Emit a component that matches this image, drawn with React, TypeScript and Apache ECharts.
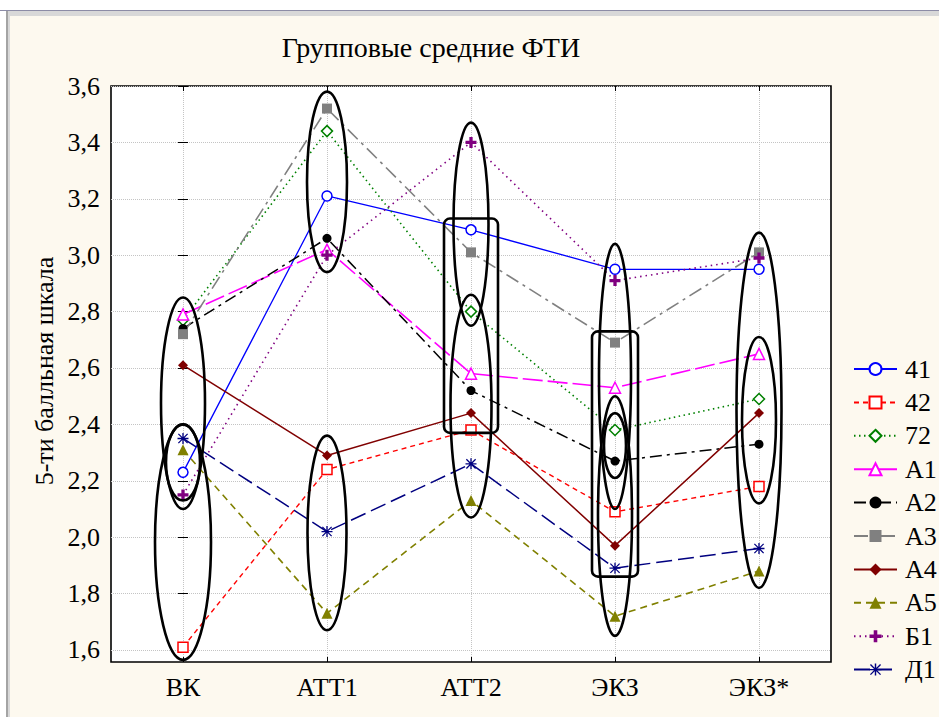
import React, { useEffect, useRef } from 'react';
import * as echarts from 'echarts';

const categories = ['ВК', 'АТТ1', 'АТТ2', 'ЭКЗ', 'ЭКЗ*'];
const yTicks = [1.6, 1.8, 2.0, 2.2, 2.4, 2.6, 2.8, 3.0, 3.2, 3.4, 3.6];

const s41 = [2.23, 3.21, 3.09, 2.95, 2.95];
const s42 = [1.61, 2.24, 2.38, 2.09, 2.18];
const s72 = [2.77, 3.44, 2.8, 2.38, 2.49];
const sA1 = [2.79, 3.02, 2.58, 2.53, 2.65];
const sA2 = [2.74, 3.06, 2.52, 2.27, 2.33];
const sA3 = [2.72, 3.52, 3.01, 2.69, 3.01];
const sA4 = [2.61, 2.29, 2.44, 1.97, 2.44];
const sA5 = [2.31, 1.73, 2.13, 1.72, 1.88];
const sB1 = [2.15, 3.0, 3.4, 2.91, 2.99];
const sD1 = [2.35, 2.02, 2.26, 1.89, 1.96];

// annotation outlines: category index, value range
const ellipses = [
  { x: 0, lo: 2.10, hi: 2.85, w: 44 },
  { x: 0, lo: 2.13, hi: 2.40, w: 34 },
  { x: 0, lo: 1.565, hi: 2.40, w: 56 },
  { x: 1, lo: 2.94, hi: 3.58, w: 40 },
  { x: 1, lo: 1.67, hi: 2.36, w: 39 },
  { x: 2, lo: 2.75, hi: 3.47, w: 35 },
  { x: 2, lo: 2.07, hi: 2.86, w: 41 },
  { x: 3, lo: 2.10, hi: 3.04, w: 32 },
  { x: 3, lo: 1.65, hi: 2.50, w: 34 },
  { x: 3, lo: 2.21, hi: 2.44, w: 22 },
  { x: 4, lo: 1.82, hi: 3.08, w: 45 },
  { x: 4, lo: 2.12, hi: 2.71, w: 34 },
];
const boxes = [
  { x: 2, lo: 2.37, hi: 3.13, w: 54 },
  { x: 3, lo: 1.86, hi: 2.73, w: 46 },
];

const FONT = 'serif';

const plusPath = 'path://M3.5,0H6.5V3.5H10V6.5H6.5V10H3.5V6.5H0V3.5H3.5Z';
const starPath =
  'path://M0,4.4H10V5.6H0Z M4.4,0H5.6V10H4.4Z M1.2,0.4L9.6,8.8L8.8,9.6L0.4,1.2Z M8.8,0.4L9.6,1.2L1.2,9.6L0.4,8.8Z';

type Def = {
  name: string;
  values: number[];
  color: string;
  dash: any;
  width: number;
  symbol: string;
  size: number;
  hollow: boolean;
};

const defs: Def[] = [
  { name: '41', values: s41, color: '#0000ff', dash: 'solid', width: 1.3, symbol: 'circle', size: 10, hollow: true },
  { name: '42', values: s42, color: '#ff0000', dash: [5, 4], width: 1.4, symbol: 'rect', size: 10, hollow: true },
  { name: '72', values: s72, color: '#008000', dash: [1.5, 3.5], width: 1.6, symbol: 'diamond', size: 11, hollow: true },
  { name: 'А1', values: sA1, color: '#ff00ff', dash: [20, 5], width: 1.6, symbol: 'triangle', size: 11, hollow: true },
  { name: 'А2', values: sA2, color: '#000000', dash: [12, 5, 3, 5], width: 1.5, symbol: 'circle', size: 9, hollow: false },
  { name: 'А3', values: sA3, color: '#808080', dash: [14, 5, 3, 5], width: 1.6, symbol: 'rect', size: 10, hollow: false },
  { name: 'А4', values: sA4, color: '#800000', dash: 'solid', width: 1.5, symbol: 'diamond', size: 10, hollow: false },
  { name: 'А5', values: sA5, color: '#808000', dash: [7, 5], width: 1.6, symbol: 'triangle', size: 11, hollow: false },
  { name: 'Б1', values: sB1, color: '#800080', dash: [1.5, 4], width: 1.6, symbol: plusPath, size: 11, hollow: false },
  { name: 'Д1', values: sD1, color: '#000080', dash: [16, 6], width: 1.5, symbol: starPath, size: 11, hollow: false },
];

export default function App() {
  const ref = useRef<HTMLDivElement>(null);
  useEffect(() => {
    const chart = echarts.init(ref.current!, null, { renderer: 'svg' });
    const lineSeries = defs.map((d) => ({
      type: 'line',
      name: d.name,
      data: d.values.map((v, i) => [i, v]),
      symbol: d.symbol,
      symbolSize: d.size,
      showAllSymbol: true,
      z: 3,
      lineStyle: { color: d.color, width: d.width, type: d.dash },
      itemStyle: d.hollow
        ? { color: '#ffffff', borderColor: d.color, borderWidth: 1.5 }
        : { color: d.color, borderColor: d.color, borderWidth: 0 },
      emphasis: { disabled: true },
    }));

    const ellipseSeries = {
      type: 'custom',
      name: 'ellipses',
      silent: true,
      clip: false,
      z: 10,
      data: ellipses.map((e) => [e.x, e.lo, e.hi]),
      encode: { x: 0, y: [1, 2] },
      renderItem: (params: any, api: any) => {
        const e = ellipses[params.dataIndex];
        const top = api.coord([e.x, e.hi]);
        const bot = api.coord([e.x, e.lo]);
        return {
          type: 'ellipse',
          shape: { cx: top[0], cy: (top[1] + bot[1]) / 2, rx: e.w / 2, ry: (bot[1] - top[1]) / 2 },
          style: { fill: 'none', stroke: '#000', lineWidth: 2.6 },
        };
      },
    };
    const boxSeries = {
      type: 'custom',
      name: 'boxes',
      silent: true,
      clip: false,
      z: 10,
      data: boxes.map((b) => [b.x, b.lo, b.hi]),
      encode: { x: 0, y: [1, 2] },
      renderItem: (params: any, api: any) => {
        const b = boxes[params.dataIndex];
        const top = api.coord([b.x, b.hi]);
        const bot = api.coord([b.x, b.lo]);
        return {
          type: 'rect',
          shape: { x: top[0] - b.w / 2, y: top[1], width: b.w, height: bot[1] - top[1], r: 6 },
          style: { fill: 'none', stroke: '#000', lineWidth: 2.6 },
        };
      },
    };

    const xIdx = categories.map((_, i) => i);
    const tickStyle = { show: true, inside: true, length: 5, lineStyle: { color: '#000', width: 1 } };

    const option: any = {
      animation: false,
      backgroundColor: '#fdf9ef',
      textStyle: { fontFamily: FONT },
      grid: {
        left: 111,
        top: 86,
        width: 720,
        height: 576,
        show: true,
        backgroundColor: '#ffffff',
        borderColor: '#000000',
        borderWidth: 1.6,
        containLabel: false,
      },
      xAxis: [
        {
          type: 'value',
          min: -0.5,
          max: 4.5,
          position: 'bottom',
          axisLine: { show: false },
          axisTick: { ...tickStyle, customValues: xIdx },
          axisLabel: {
            customValues: xIdx,
            formatter: (v: number) => categories[Math.round(v)],
            fontSize: 26,
            fontFamily: FONT,
            color: '#000',
            margin: 12,
          },
          splitLine: { show: true, lineStyle: { color: '#c4c4c4', type: 'dotted', width: 1 } },
        },
        {
          type: 'value',
          min: -0.5,
          max: 4.5,
          position: 'top',
          axisLine: { show: false },
          axisTick: { ...tickStyle, customValues: xIdx },
          axisLabel: { show: false },
          splitLine: { show: false },
        },
      ],
      yAxis: [
        {
          type: 'value',
          min: 1.5574,
          max: 3.6,
          position: 'left',
          axisLine: { show: false },
          axisTick: { ...tickStyle, customValues: yTicks },
          axisLabel: {
            customValues: yTicks,
            formatter: (v: number) => v.toFixed(1).replace('.', ','),
            fontSize: 26,
            fontFamily: FONT,
            color: '#000',
            margin: 11,
          },
          splitLine: { show: true, lineStyle: { color: '#c4c4c4', type: 'dotted', width: 1 } },
        },
        {
          type: 'value',
          min: 1.5574,
          max: 3.6,
          position: 'right',
          axisLine: { show: false },
          axisTick: { ...tickStyle, customValues: yTicks },
          axisLabel: { show: false },
          splitLine: { show: false },
        },
      ],
      legend: {
        orient: 'vertical',
        left: 848,
        top: 351,
        itemWidth: 43,
        itemHeight: 15,
        itemGap: 7.4,
        data: defs.map((d) => d.name),
        textStyle: { fontSize: 26, fontFamily: FONT, color: '#000', lineHeight: 25, padding: [0, 0, 0, 3] },
        selectedMode: false,
      },
      graphic: [
        { type: 'rect', shape: { x: 0, y: 0, width: 939, height: 10 }, style: { fill: '#ffffff' }, silent: true },
        { type: 'rect', shape: { x: 0, y: 10, width: 6, height: 707 }, style: { fill: '#ffffff' }, silent: true },
        { type: 'rect', shape: { x: 0, y: 10, width: 939, height: 1 }, style: { fill: '#8c8ca6' }, silent: true },
        { type: 'rect', shape: { x: 6, y: 11, width: 933, height: 5 }, style: { fill: '#d8d8d8' }, silent: true },
        { type: 'rect', shape: { x: 6, y: 11, width: 2, height: 706 }, style: { fill: '#a4a4a4' }, silent: true },
        { type: 'rect', shape: { x: 8, y: 16, width: 2, height: 701 }, style: { fill: '#d8d8d8' }, silent: true },
        {
          type: 'text',
          x: 431,
          y: 47,
          style: {
            text: 'Групповые средние ФТИ',
            fontSize: 28,
            fontFamily: FONT,
            fill: '#000',
            align: 'center',
            verticalAlign: 'middle',
          },
        },
        {
          type: 'text',
          x: 44,
          y: 371,
          rotation: Math.PI / 2,
          style: {
            text: '5-ти балльная шкала',
            fontSize: 26,
            fontFamily: FONT,
            fill: '#000',
            align: 'center',
            verticalAlign: 'middle',
          },
        },
      ],
      series: [...lineSeries, ellipseSeries, boxSeries],
    };
    chart.setOption(option);
    return () => chart.dispose();
  }, []);
  return <div ref={ref} style={{ position: 'absolute', left: 0, top: 0, width: 939, height: 717 }} />;
}
